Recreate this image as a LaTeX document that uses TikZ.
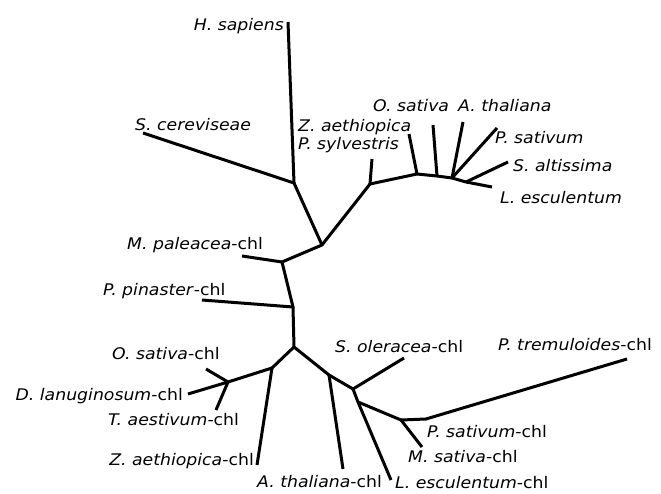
\documentclass[tikz,border=0pt]{standalone}
\usepackage{fontspec}
\newfontfamily\labfont[FakeStretch=1.08]{DejaVu Sans}
\tikzset{
  edge/.style={line width=3pt},
  lab/.style={inner sep=0pt, font=\labfont\fontsize{16}{19}\selectfont},
  jn/.style={fill=black}
}
\begin{document}
\begin{tikzpicture}[x=1pt,y=-1pt]
\useasboundingbox (0,0) rectangle (661,494);
% internal nodes
\coordinate (n1) at (294,183);
\coordinate (A) at (322,245);
\coordinate (B) at (370,184);
\coordinate (C) at (417,174);
\coordinate (D) at (437,176);
\coordinate (E) at (452,178);
\coordinate (F) at (466,182);
\coordinate (G) at (282,262);
\coordinate (H) at (293,307);
\coordinate (I) at (294,347);
\coordinate (J) at (272,368);
\coordinate (K) at (228,382);
\coordinate (L) at (329,375);
\coordinate (M) at (353,389);
\coordinate (N) at (358,402);
\coordinate (O) at (401,420);
\coordinate (P) at (426,419);
% leaves
\coordinate (hs) at (288,22);
\coordinate (sc) at (143,133);
\coordinate (ps) at (372,159);
\coordinate (za) at (409,134);
\coordinate (os) at (433,125);
\coordinate (at) at (463,122);
\coordinate (psat) at (497,128);
\coordinate (sa) at (508,162);
\coordinate (le) at (492,187);
\coordinate (mp) at (242,256);
\coordinate (pp) at (202,300);
\coordinate (osc) at (206,369);
\coordinate (dl) at (188,394);
\coordinate (ta) at (216,410);
\coordinate (zac) at (257,465);
\coordinate (atc) at (343,469);
\coordinate (so) at (404,358);
\coordinate (lec) at (391,480);
\coordinate (msc) at (422,447);
\coordinate (ptc) at (627,359);
% edges
\foreach \a/\b in {n1/hs,n1/sc,n1/A,A/B,B/ps,B/C,C/za,C/D,D/os,D/E,E/at,E/psat,E/F,F/sa,F/le,
  A/G,G/mp,G/H,H/pp,H/I,I/J,J/K,K/osc,K/dl,K/ta,J/zac,I/L,L/atc,L/M,M/so,M/N,N/lec,N/O,O/msc,O/P,P/ptc}
  \draw[edge] (\a) -- (\b);
\foreach \n in {n1,A,B,C,D,E,F,G,H,I,J,K,L,M,N,O,P}
  \fill[jn] (\n) circle[radius=1.5pt];
% labels
\node[lab, anchor=base east] (lhs) at (284,31) {\textit{H. sapiens}};
\node[lab, anchor=base west] (lsc) at (135,131) {\textit{S. cereviseae}};
\node[lab, anchor=base west] (lza) at (298,132) {\textit{Z. aethiopica}};
\node[lab, anchor=base west] (lps) at (298,150) {\textit{P. sylvestris}};
\node[lab, anchor=base west] (los) at (373,112) {\textit{O. sativa}};
\node[lab, anchor=base west] (lat) at (458,112) {\textit{A. thaliana}};
\node[lab, anchor=base west] (lpsat) at (495,144) {\textit{P. sativum}};
\node[lab, anchor=base west] (lsa) at (513,172) {\textit{S. altissima}};
\node[lab, anchor=base west] (lle) at (500,204) {\textit{L. esculentum}};
\node[lab, anchor=base west] (lmp) at (127,250) {\textit{M. paleacea}-chl};
\node[lab, anchor=base west] (lpp) at (103,295) {\textit{P. pinaster}-chl};
\node[lab, anchor=base west] (losc) at (112,359) {\textit{O. sativa}-chl};
\node[lab, anchor=base east] (ldl) at (183,400) {\textit{D. lanuginosum}-chl};
\node[lab, anchor=base west] (lta) at (108,425) {\textit{T. aestivum}-chl};
\node[lab, anchor=base east] (lzac) at (254,465) {\textit{Z. aethiopica}-chl};
\node[lab, anchor=base west] (latc) at (257,487) {\textit{A. thaliana}-chl};
\node[lab, anchor=base west] (llec) at (395,488) {\textit{L. esculentum}-chl};
\node[lab, anchor=base west] (lmsc) at (408,462) {\textit{M. sativa}-chl};
\node[lab, anchor=base west] (lpsc) at (427,437) {\textit{P. sativum}-chl};
\node[lab, anchor=base west] (lso) at (335,352) {\textit{S. oleracea}-chl};
\node[lab, anchor=base west] (lptc) at (498,350) {\textit{P. tremuloides}-chl};
\end{tikzpicture}
\end{document}
